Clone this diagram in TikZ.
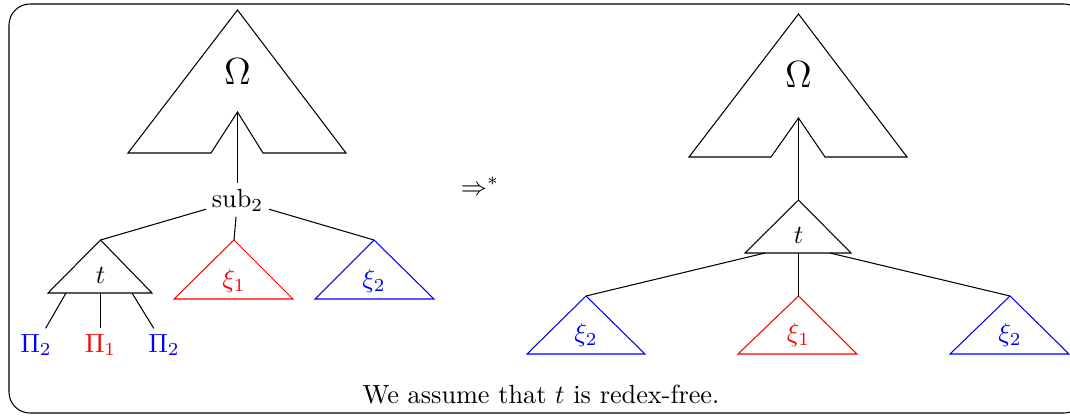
\documentclass[tikz,border=0pt]{standalone}
\usepackage{amsmath, amssymb}
\usepackage{tikz}
\usepackage{xcolor}

\begin{document}
\begin{tikzpicture}[
  x=0.0134cm, y=-0.0134cm,
  tree/.style={draw, line join=miter},
  lbl/.style={inner sep=1pt},
  leaf/.style={inner sep=2pt},
]
  \useasboundingbox (0,0) rectangle (1070,416);
  \draw[rounded corners=8pt] (9,4) rectangle (1085,413);

  % left: before
  \draw[tree] (128,153) -- (237.5,10) -- (346,153) -- (263,153)
    -- (237.5,112) -- (211,153) -- cycle;
  \node[lbl] (omegaL) at (237.5,72) {\Large$\Omega$};
  \coordinate (holeL) at (237.5,112);

  \node[lbl, inner sep=2pt] (sub) at (237.5,200) {$\mathrm{sub}_2$};

  \draw[tree] (100.5,240) -- (152,293) -- (48,293) -- cycle;
  \coordinate (tL) at (100.5,240);
  \node[lbl] (tlabL) at (100.5,275) {$t$};

  \draw[tree, red] (234,240) -- (293,299) -- (174,299) -- cycle;
  \coordinate (xiA) at (234,240);
  \node[lbl, red] (xiAlab) at (234,281) {$\xi_1$};

  \draw[tree, blue] (374,240) -- (434,299) -- (315,299) -- cycle;
  \coordinate (xiB) at (374,240);
  \node[lbl, blue] (xiBlab) at (374,281) {$\xi_2$};

  \coordinate (tLa) at (66,293);
  \coordinate (tLb) at (100.5,293);
  \coordinate (tLc) at (132,293);
  \node[leaf, blue] (piA) at (36,345) {$\Pi_2$};
  \node[leaf, red] (piB) at (100.5,345) {$\Pi_1$};
  \node[leaf, blue] (piC) at (164,345) {$\Pi_2$};

  \draw (holeL) -- (sub);
  \draw (sub) -- (tL);
  \draw (sub) -- (xiA);
  \draw (sub) -- (xiB);
  \draw (tLa) -- (piA);
  \draw (tLb) -- (piB);
  \draw (tLc) -- (piC);

  \node (arrow) at (480,186) {$\Rightarrow^*$};

  % right: after
  \draw[tree] (689,157) -- (798.5,14) -- (907,157) -- (825,157)
    -- (798.5,118) -- (771,157) -- cycle;
  \node[lbl] (omegaR) at (798.5,75) {\Large$\Omega$};
  \coordinate (holeR) at (798.5,118);

  \draw[tree] (798.5,200) -- (851,253) -- (745,253) -- cycle;
  \coordinate (tR) at (798.5,200);
  \node[lbl] (tlabR) at (798.5,235) {$t$};
  \coordinate (tRa) at (765,253);
  \coordinate (tRb) at (798.5,253);
  \coordinate (tRc) at (830,253);

  \draw[tree, blue] (586,296) -- (645,354) -- (527,354) -- cycle;
  \coordinate (xiC) at (586,296);
  \node[lbl, blue] (xiClab) at (586,335) {$\xi_2$};

  \draw[tree, red] (798.5,296) -- (857,354) -- (738,354) -- cycle;
  \coordinate (xiD) at (798.5,296);
  \node[lbl, red] (xiDlab) at (798.5,335) {$\xi_1$};

  \draw[tree, blue] (1010,296) -- (1069,354) -- (950,354) -- cycle;
  \coordinate (xiE) at (1010,296);
  \node[lbl, blue] (xiElab) at (1010,335) {$\xi_2$};

  \draw (holeR) -- (tR);
  \draw (tRa) -- (xiC);
  \draw (tRb) -- (xiD);
  \draw (tRc) -- (xiE);

  \node (note) at (541,395) {We assume that $t$ is redex-free.};
\end{tikzpicture}
\end{document}
